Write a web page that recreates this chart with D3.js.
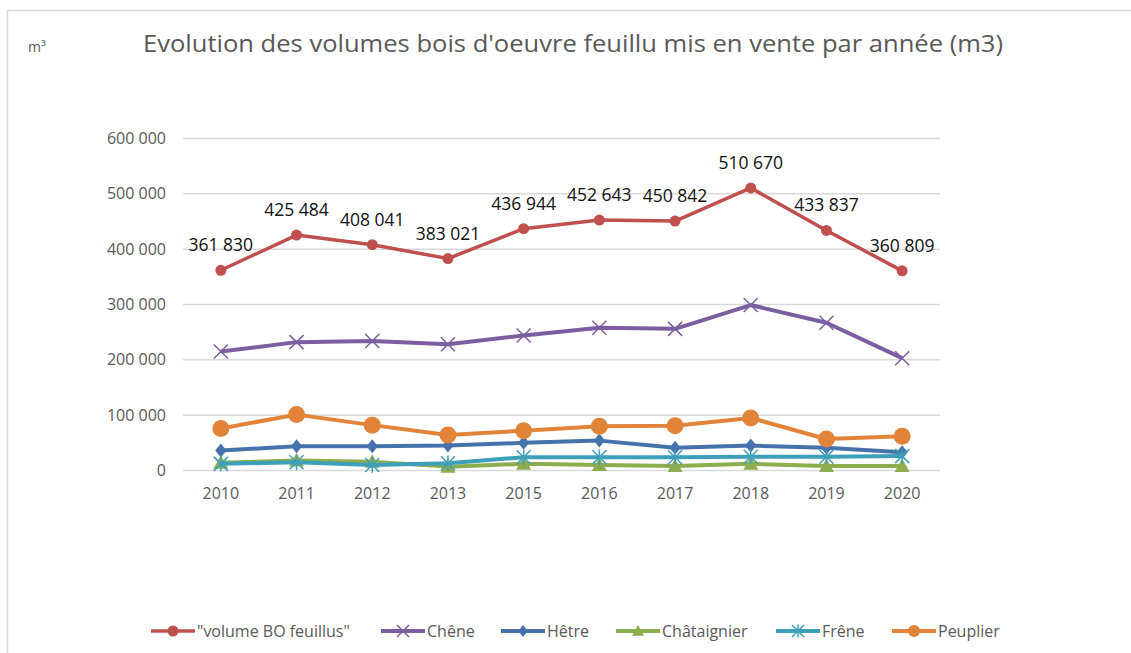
<!DOCTYPE html>
<html>
<head>
<meta charset="utf-8">
<script src="https://cdn.jsdelivr.net/npm/d3@7"></script>
<style>
  body { margin: 0; background: #fff; }
  svg { display: block; }
</style>
</head>
<body>
<script>
const width = 1131, height = 653;

// data
const years = ["2010", "2011", "2012", "2013", "2015", "2016", "2017", "2018", "2019", "2020"];
const volumeBO = [361830, 425484, 408041, 383021, 436944, 452643, 450842, 510670, 433837, 360809];
const chene = [215000, 232000, 234000, 228000, 244000, 258000, 256000, 299000, 267000, 203000];
const hetre = [36000, 44000, 44000, 45000, 50000, 54000, 41000, 45000, 41000, 33000];
const chataignier = [14000, 18000, 16000, 7000, 12000, 10000, 8000, 12000, 8000, 8000];
const frene = [12000, 15000, 10000, 13000, 24000, 24000, 24000, 25000, 25000, 26000];
const peuplier = [76000, 101000, 82000, 64000, 72000, 80000, 81000, 95000, 57000, 62000];
const yTicks = [0, 100000, 200000, 300000, 400000, 500000, 600000];

const series = [
  { name: "\"volume BO feuillus\"", values: volumeBO, color: "#C0504D", marker: "circle", size: 5.5, lw: 3.5, labels: true },
  { name: "Chêne", values: chene, color: "#7B5EA0", marker: "x", size: 7, lw: 4 },
  { name: "Hêtre", values: hetre, color: "#4672AC", marker: "diamond", size: 7, lw: 4 },
  { name: "Châtaignier", values: chataignier, color: "#8DAD4E", marker: "triangle", size: 7.5, lw: 4 },
  { name: "Frêne", values: frene, color: "#3E9FBA", marker: "asterisk", size: 7, lw: 4 },
  { name: "Peuplier", values: peuplier, color: "#E2833A", marker: "circle", size: 8.5, lw: 4 }
];

const fontFamily = "'Open Sans', 'Noto Sans', sans-serif";
const locale = d3.formatLocale({ decimal: ",", thousands: " ", grouping: [3], currency: ["", ""] });
const fmt = locale.format(",");

const svg = d3.select("body").append("svg")
  .attr("width", width)
  .attr("height", height)
  .style("font-family", fontFamily);

// chart frame (right/bottom edges fall outside the picture)
svg.append("rect")
  .attr("x", 7.5).attr("y", 10.5)
  .attr("width", 1140).attr("height", 660)
  .attr("fill", "none")
  .attr("stroke", "#D9D9D9")
  .attr("stroke-width", 1.5);

const x = d3.scaleBand().domain(years).range([183, 940]);
const cx = d => x(d) + x.bandwidth() / 2;
const y = d3.scaleLinear().domain([0, 600000]).range([470.5, 138.5]);

// gridlines
svg.append("g")
  .selectAll("line")
  .data(yTicks)
  .join("line")
  .attr("x1", 183).attr("x2", 940)
  .attr("y1", d => y(d)).attr("y2", d => y(d))
  .attr("stroke", "#D9D9D9")
  .attr("stroke-width", 1.5);

// y tick labels
svg.append("g")
  .selectAll("text")
  .data(yTicks)
  .join("text")
  .attr("x", 166)
  .attr("y", d => y(d) + 5.5)
  .attr("text-anchor", "end")
  .attr("font-size", 16)
  .attr("fill", "#595959")
  .text(d => fmt(d));

// x tick labels
svg.append("g")
  .selectAll("text")
  .data(years)
  .join("text")
  .attr("x", d => cx(d))
  .attr("y", 499)
  .attr("text-anchor", "middle")
  .attr("font-size", 16)
  .attr("fill", "#595959")
  .text(d => d);

// marker shapes
const markerPath = (type, s) => {
  switch (type) {
    case "circle": return d3.symbol().type(d3.symbolCircle).size(Math.PI * s * s)();
    case "diamond": return `M0,${-s}L${s * 0.8},0L0,${s}L${-s * 0.8},0Z`;
    case "triangle": return `M0,${-s}L${s},${s * 0.8}L${-s},${s * 0.8}Z`;
    case "x": return `M${-s},${-s}L${s},${s}M${-s},${s}L${s},${-s}`;
    case "asterisk": return `M${-s},${-s}L${s},${s}M${-s},${s}L${s},${-s}M0,${-s * 1.1}L0,${s * 1.1}`;
  }
};
const isStroke = t => t === "x" || t === "asterisk";

const line = d3.line().x((d, i) => cx(years[i])).y(d => y(d));

series.forEach(s => {
  const g = svg.append("g");
  g.append("path")
    .attr("d", line(s.values))
    .attr("fill", "none")
    .attr("stroke", s.color)
    .attr("stroke-width", s.lw)
    .attr("stroke-linejoin", "round");
  g.selectAll("path.m")
    .data(s.values)
    .join("path")
    .attr("class", "m")
    .attr("transform", (d, i) => `translate(${cx(years[i])},${y(d)})`)
    .attr("d", markerPath(s.marker, s.size))
    .attr("fill", isStroke(s.marker) ? "none" : s.color)
    .attr("stroke", s.color)
    .attr("stroke-width", isStroke(s.marker) ? 1.5 : 0);
  if (s.labels) {
    g.selectAll("text")
      .data(s.values)
      .join("text")
      .attr("x", (d, i) => cx(years[i]))
      .attr("y", d => y(d) - 19)
      .attr("text-anchor", "middle")
      .attr("font-size", 17.5)
      .attr("fill", "#111")
      .text(d => fmt(d));
  }
});

// titles
svg.append("text")
  .attr("x", 143).attr("y", 52)
  .attr("font-size", 23)
  .attr("fill", "#595959")
  .attr("textLength", 860)
  .attr("lengthAdjust", "spacingAndGlyphs")
  .text("Evolution des volumes bois d'oeuvre feuillu mis en vente par année (m3)");

svg.append("text")
  .attr("x", 28).attr("y", 52)
  .attr("font-size", 14)
  .attr("fill", "#595959")
  .text("m³");

// legend: each entry starts where the reference puts it
const legendStarts = [151, 381, 501, 616, 776, 892];
const legend = svg.append("g");
const ly = 631;
series.forEach((s, i) => {
  const lx = legendStarts[i];
  const g = legend.append("g");
  g.append("line")
    .attr("x1", lx).attr("x2", lx + 44)
    .attr("y1", ly).attr("y2", ly)
    .attr("stroke", s.color)
    .attr("stroke-width", s.lw);
  g.append("path")
    .attr("transform", `translate(${lx + 22},${ly})`)
    .attr("d", markerPath(s.marker, Math.min(s.size, 6)))
    .attr("fill", isStroke(s.marker) ? "none" : s.color)
    .attr("stroke", s.color)
    .attr("stroke-width", isStroke(s.marker) ? 1.5 : 0);
  g.append("text")
    .attr("x", lx + 46).attr("y", ly + 5.5)
    .attr("font-size", 16)
    .attr("fill", "#595959")
    .text(s.name);
});
</script>
</body>
</html>
